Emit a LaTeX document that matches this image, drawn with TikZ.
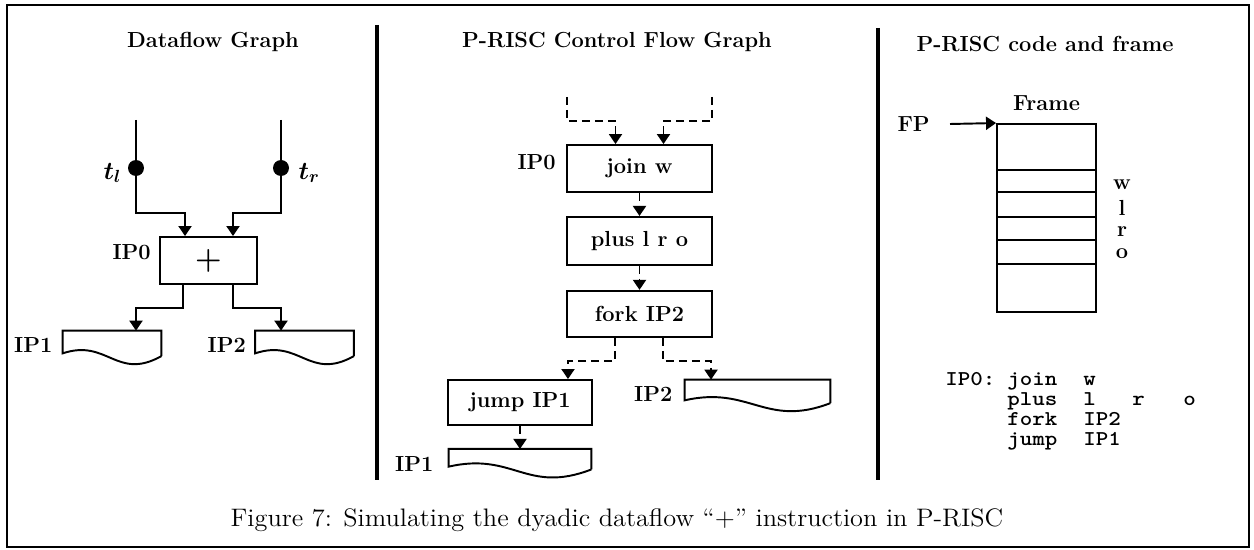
\documentclass[tikz,border=0pt]{standalone}
\usepackage{amsmath}
\usepackage{fontspec}
\usepackage{tikz}
\usetikzlibrary{arrows.meta,calc,positioning}
\tikzset{wire/.style={line width=1.1pt},flow/.style={wire,-{Triangle[length=2mm,width=2.6mm]}},dflow/.style={flow,dash pattern=on 1.6mm off 1mm},instr/.style={draw,line width=1.1pt,minimum width=2.9cm,minimum height=0.94cm},tapebox/.style={minimum width=1.96cm,minimum height=0.44cm},tokendot/.style={circle,fill,minimum size=0.32cm},divider/.style={line width=2.2pt},code/.style={anchor=base west,font=\fontsize{12}{14}\selectfont\ttfamily\bfseries}}
\newcommand\drawtape[2]{\draw[wire] ([yshift=-1.6pt]#1.south east) -- (#1.north east) -- (#1.north west) -- (#1.south west) .. controls +(#2,0.3cm) and +(-#2,-0.5cm) .. ([yshift=-1.6pt]#1.south east);}

\begin{document}
\begin{tikzpicture}[x=0.02cm,y=-0.02cm,inner sep=0pt,font=\fontsize{12.4}{14}\selectfont\bfseries]
  \useasboundingbox (0,0) rectangle (1254,550);
  \draw[line width=1pt] (7,5) rectangle (1249,547);
  \draw[divider] (377,25) -- (377,480);
  \draw[divider] (878,28) -- (878,480);

  % dataflow graph
  \node (dftitle) at (213,42) {Dataflow Graph};
  \node[instr,minimum width=1.94cm] (add) at (208.5,260.5) {\fontsize{17}{17}\selectfont$\boldsymbol{+}$};
  \node[left=0.16cm of add,yshift=0.17cm] (addlbl) {IP0};
  \coordinate (tlin) at (136,120);
  \coordinate (trin) at (281,120);
  \node[tokendot] (tldot) at (136,168) {};
  \node[tokendot] (trdot) at (281,168) {};
  \node[left=0.12cm of tldot,yshift=-0.1cm,font=\fontsize{14}{14}\selectfont] (tl) {$\boldsymbol{t_l}$};
  \node[right=0.18cm of trdot,yshift=-0.1cm,font=\fontsize{14}{14}\selectfont] (tr) {$\boldsymbol{t_r}$};
  \draw[wire] (tlin) -- (tldot);\draw[wire] (trin) -- (trdot);
  \draw[flow] (tldot) -- ++(0,45) -| ([xshift=-0.47cm]add.north);
  \draw[flow] (trdot) -- ++(0,45) -| ([xshift=0.49cm]add.north);
  \node[tapebox] (dfip1) at (112,342) {};\drawtape{dfip1}{0.9cm}
  \node[tapebox] (dfip2) at (304.5,342) {};\drawtape{dfip2}{0.9cm}
  \node[left=0.2cm of dfip1,yshift=-0.06cm] (dfip1lbl) {IP1};
  \node[left=0.18cm of dfip2,yshift=-0.06cm] (dfip2lbl) {IP2};
  \draw[flow] ([xshift=-0.51cm]add.south) -- ++(0,23) -| ([xshift=0.48cm]dfip1.north);
  \draw[flow] ([xshift=0.49cm]add.south) -- ++(0,23) -| ([xshift=-0.47cm]dfip2.north);

  % control flow graph
  \node (cftitle) at (617,42) {P-RISC Control Flow Graph};
  \node[instr] (join) at (639.5,168.5) {join w};
  \node[instr,minimum height=0.96cm,below=0.46cm of join] (plusop) {plus l r o};
  \node[instr,minimum height=0.92cm,below=0.48cm of plusop] (fork) {fork IP2};
  \node[instr,minimum width=2.88cm,minimum height=0.9cm] (jump) at (520,402.5) {jump IP1};
  \node[left=0.2cm of join,yshift=0.13cm] (joinlbl) {IP0};
  \node[tapebox,minimum width=2.84cm,minimum height=0.34cm,below=0.46cm of jump] (cfip1) {};\drawtape{cfip1}{1.3cm}
  \node[tapebox,minimum width=2.9cm,minimum height=0.4cm] (cfip2) at (757.5,390) {};\drawtape{cfip2}{1.3cm}
  \node[left=0.3cm of cfip1,yshift=-0.12cm] (cfip1lbl) {IP1};
  \node[left=0.24cm of cfip2,yshift=-0.08cm] (cfip2lbl) {IP2};
  \coordinate (inl) at (567,97);
  \coordinate (inr) at (712,97);
  \draw[dflow] (inl) -- ++(0,24) -| ([xshift=-0.48cm]join.north);
  \draw[dflow] (inr) -- ++(0,24) -| ([xshift=0.48cm]join.north);
  \draw[dflow] (join) -- (plusop);\draw[dflow] (plusop) -- (fork);
  \draw[dflow] ([xshift=-0.49cm]fork.south) -- ++(0,23) -| ([xshift=0.96cm]jump.north);
  \draw[dflow] ([xshift=0.47cm]fork.south) -- ++(0,23) -| ([xshift=-0.93cm]cfip2.north);
  \draw[dflow] (jump) -- (cfip1);

  % code and frame
  \node (rttitle) at (1045,44) {P-RISC code and frame};
  \node[draw,line width=1.1pt,minimum width=1.98cm,minimum height=3.76cm] (frame) at (1046.5,218) {};
  \foreach \y in {47,69,94,117,141} \draw[wire] (frame.north west) ++(0,\y) -- ++(99,0);
  \node[above=0.24cm of frame] (framelbl) {Frame};
  \coordinate (fptail) at (950,124);
  \node[left=0.4cm of fptail] (fp) {FP};
  \draw[flow] (fptail) -- (frame.north west);
  \foreach \s/\y in {w/185,l/208,r/232,o/254} \node (slot\s) at (1122,\y) {\s};
  \node[code] (code0) at (945,385) {\scalebox{1.13}[1]{\makebox[1.097cm][l]{IP0:}\makebox[1.345cm][l]{join}w}};
  \node[code] (code1) at (945,405) {\scalebox{1.13}[1]{\makebox[1.097cm][l]{}\makebox[1.345cm][l]{plus}\makebox[0.867cm][l]{l}\makebox[0.903cm][l]{r}o}};
  \node[code] (code2) at (945,425) {\scalebox{1.13}[1]{\makebox[1.097cm][l]{}\makebox[1.345cm][l]{fork}IP2}};
  \node[code] (code3) at (945,445) {\scalebox{1.13}[1]{\makebox[1.097cm][l]{}\makebox[1.345cm][l]{jump}IP1}};

  \node[font=\fontsize{14.4}{17}\selectfont\mdseries] (caption) at (617,520) {\scalebox{1.04}[1]{Figure 7: Simulating the dyadic dataflow ``+'' instruction in P-RISC}};
\end{tikzpicture}
\end{document}
